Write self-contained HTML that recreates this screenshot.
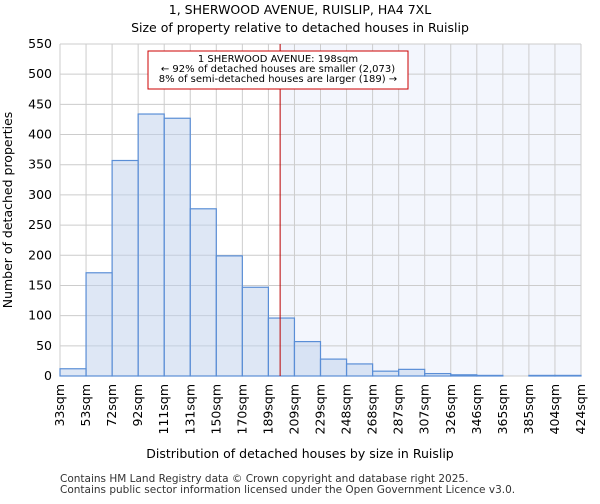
<!DOCTYPE html>
<html><head><meta charset="utf-8"><style>
body{margin:0;background:#fff;font-family:"DejaVu Sans","Liberation Sans",sans-serif}
</style></head><body>
<svg id="c" width="600" height="500" xmlns="http://www.w3.org/2000/svg" font-family="DejaVu Sans, Liberation Sans, sans-serif">
<text x="300" y="14" text-anchor="middle" font-size="12.5">1, SHERWOOD AVENUE, RUISLIP, HA4 7XL</text>
<text x="300" y="32" text-anchor="middle" font-size="12.5">Size of property relative to detached houses in Ruislip</text>
<g id="grid"></g><g id="bars"></g><g id="ann"></g><g id="axes"></g>
<text x="300" y="458" text-anchor="middle" font-size="12.5">Distribution of detached houses by size in Ruislip</text>
<text transform="translate(12,210) rotate(-90)" text-anchor="middle" font-size="12.5">Number of detached properties</text>
<text x="60" y="482" font-size="10.5" fill="#333">Contains HM Land Registry data © Crown copyright and database right 2025.</text>
<text x="60" y="493" font-size="10.5" fill="#333">Contains public sector information licensed under the Open Government Licence v3.0.</text>
</svg>
<script>
const edges=[33,53,72,92,111,131,150,170,189,209,229,248,268,287,307,326,346,365,385,404,424];
const counts=[12,171,357,434,427,277,199,147,96,57,28,20,8,11,4,2,1,0,1,1];
const yTicks=[0,50,100,150,200,250,300,350,400,450,500,550];
const propertySize=198;
const ns="http://www.w3.org/2000/svg";
const L=60,R=581,T=44,B=376,yMax=550;
const n=counts.length;
const xi=i=>L+(R-L)*i/n;
const xv=v=>{for(let i=0;i<n;i++){if(v<=edges[i+1])return xi(i)+(v-edges[i])/(edges[i+1]-edges[i])*(xi(i+1)-xi(i));}return R;};
const y=v=>B-(B-T)*v/yMax;
function mk(p,t,a){const e=document.createElementNS(ns,t);for(const k in a)e.setAttribute(k,a[k]);document.getElementById(p).appendChild(e);return e;}
const px=xv(propertySize);
let e=mk('grid','rect',{x:px,y:T,width:R-px,height:B-T,fill:'#f3f6fd'});


yTicks.forEach(t=>{
 let g=mk('grid','line',{x1:L,x2:R,y1:y(t),y2:y(t),stroke:'#ccc'});
 
 
 let l=mk('axes','text',{x:L-8,y:y(t)+4,'text-anchor':'end','font-size':'12.5'});
 l.textContent=t;
 
 
});
edges.forEach((v,i)=>{
 let g=mk('grid','line',{x1:xi(i),x2:xi(i),y1:T,y2:B,stroke:'#ccc'});
 
 
 let l=mk('axes','text',{transform:`translate(${xi(i)+4},${B+8}) rotate(-90)`,'text-anchor':'end','font-size':'12.5'});
 l.textContent=v+'sqm';
 
 
});
counts.forEach((c,i)=>{
 if(c<=0)return;
 let b=mk('bars','rect',{x:xi(i),y:y(c),width:xi(i+1)-xi(i),height:B-y(c),fill:'rgba(190,208,235,0.5)',stroke:'#5a8ed6','stroke-width':1.2});
 
 
});
e=mk('ann','line',{x1:px,x2:px,y1:T,y2:B,stroke:'#b00','stroke-width':1});


e=mk('ann','rect',{x:148,y:51,width:260,height:38,fill:'#fff',stroke:'#c00'});


['1 SHERWOOD AVENUE: 198sqm','← 92% of detached houses are smaller (2,073)','8% of semi-detached houses are larger (189) →'].forEach((s,i)=>{
 let t=mk('ann','text',{x:278,y:62+i*10,'text-anchor':'middle','font-size':'10'});
 t.textContent=s;
 
 
});
</script>
</body></html>
